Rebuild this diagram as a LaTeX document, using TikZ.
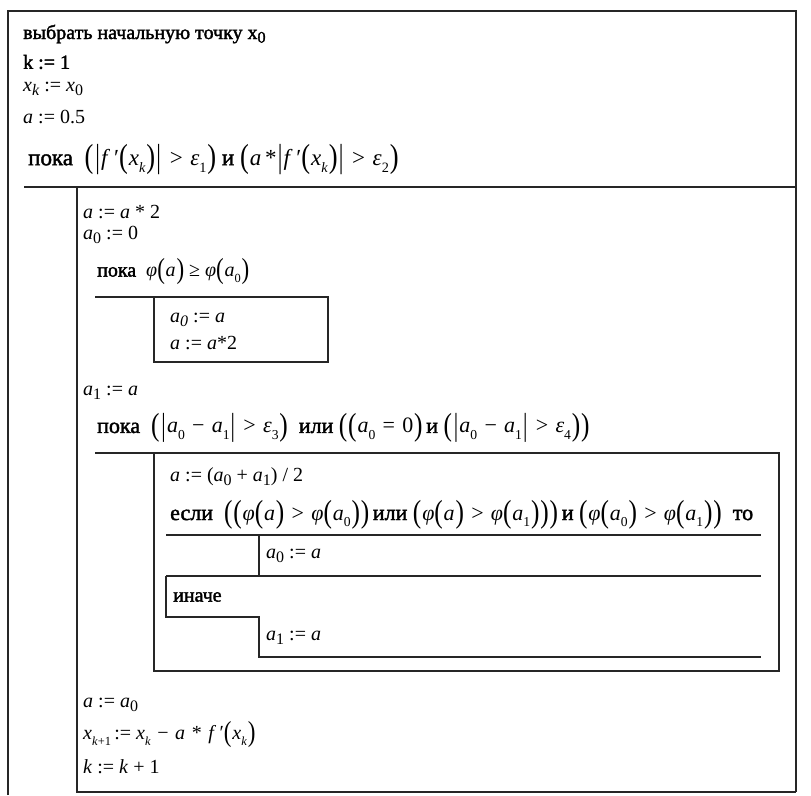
\documentclass[tikz,border=0pt]{standalone}
\usepackage{fontspec}
\setmainfont{Liberation Serif}
\newfontfamily\kwfont[FakeBold=1.8]{Liberation Serif}
\usepackage{graphicx}
\newcommand\mi[1]{\textit{#1}}
\newcommand\lo[1]{\raisebox{-0.3em}{\scalebox{0.62}{#1}}}
\newcommand\los[1]{\raisebox{-0.18em}{\scalebox{0.8}{#1}}}
\newcommand\bpl{\raisebox{-0.12em}{\scalebox{1.15}[1.45]{(}}\hspace{0.04em}}
\newcommand\bpr{\hspace{0.04em}\raisebox{-0.12em}{\scalebox{1.15}[1.45]{)}}}
\newcommand\vb{\hspace{0.05em}\raisebox{-0.12em}{\scalebox{1}[1.45]{|}}\hspace{0.05em}}
\newcommand\op[1]{\hspace{0.33em}#1\hspace{0.33em}}
\newcommand\kw[1]{{\kwfont #1}}
\newcommand\phix{\mi{φ}}
\newcommand\epsx{\mi{ε}}
\begin{document}
\begin{tikzpicture}[x=1pt,y=-1pt,
  txt/.style={anchor=west, inner sep=0pt, font=\fontsize{20}{24}\selectfont},
  ftxt/.style={anchor=west, inner sep=0pt, font=\fontsize{22}{26}\selectfont},
  ln/.style={line width=1.3pt, draw=black!85}]
\useasboundingbox (0,0) rectangle (811,795);
% frame and structure
\coordinate (o1) at (8,795);
\coordinate (o2) at (8,11);
\coordinate (o3) at (796,11);
\coordinate (o4) at (796,792);
\coordinate (b1) at (77,187);
\coordinate (b2) at (77,792);
\coordinate (h1) at (24,187);
\draw[ln] (o1) -- (o2) -- (o3) -- (o4);
\draw[ln] (h1) -- (o3 |- h1);
\draw[ln] (b1) -- (b2) -- (o4);
% first inner while
\coordinate (w1a) at (95,297);
\coordinate (w1b) at (154,297);
\coordinate (w1c) at (328,362);
\draw[ln] (w1a) -- (w1b);
\draw[ln] (w1b) rectangle (w1c);
% second inner while
\coordinate (w2a) at (95,453);
\coordinate (w2b) at (154,453);
\coordinate (w2c) at (779,671);
\draw[ln] (w2a) -- (w2b);
\draw[ln] (w2b) rectangle (w2c);
% if structure
\coordinate (i1) at (166,535);
\coordinate (i2) at (761,535);
\coordinate (i3) at (259,535);
\coordinate (i4) at (259,576);
\coordinate (i5) at (166,576);
\coordinate (i6) at (761,576);
\coordinate (i7) at (166,617);
\coordinate (i8) at (259,617);
\coordinate (i9) at (259,657);
\coordinate (i10) at (761,657);
\draw[ln] (i1) -- (i2);
\draw[ln] (i3) -- (i4);
\draw[ln] (i5) -- (i6);
\draw[ln] (i5) -- (i7) -- (i8) -- (i9) -- (i10);
% texts
\node[txt] (t1) at (23,34) {\kw{выбрать начальную точку x\los{0}}};
\node[txt] (t2) at (23,62) {\kw{k := 1}};
\node[txt] (t3) at (23,89) {\mi{x}\los{\mi{k}} := \mi{x}\los{0}};
\node[txt] (t4) at (23,117) {\mi{a} := 0.5};
\node[ftxt, font=\fontsize{23}{27}\selectfont] (t5) at (28,160) {\kw{пока}\ \ \bpl\vb\mi{f}\,′\bpl\mi{x}\lo{\mi{k}}\bpr\vb\op{>}\epsx\lo{1}\bpr\ \kw{и}\ \bpl\mi{a}\,*\vb\mi{f}\,′\bpl\mi{x}\lo{\mi{k}}\bpr\vb\op{>}\epsx\lo{2}\bpr};
\node[txt] (t6) at (83,212) {\mi{a} := \mi{a} * 2};
\node[txt] (t7) at (83,235) {\mi{a}\los{0} := 0};
\node[txt] (t8) at (97,272) {\kw{пока}\ \ \phix\bpl\mi{a}\bpr\ ≥\ \phix\bpl\mi{a}\lo{0}\bpr};
\node[txt] (t9) at (170,320) {\mi{a}\los{\mi{0}} := \mi{a}};
\node[txt] (t10) at (170,343) {\mi{a} := \mi{a}*2};
\node[txt] (t11) at (83,393) {\mi{a}\los{1} := \mi{a}};
\node[ftxt] (t12) at (97,428) {\kw{пока}\ \ \bpl\vb\mi{a}\lo{0}\op{−}\mi{a}\lo{1}\vb\op{>}\epsx\lo{3}\bpr\ \ \kw{или}\ \bpl\bpl\mi{a}\lo{0}\op{=}0\bpr\,\kw{и}\ \bpl\vb\mi{a}\lo{0}\op{−}\mi{a}\lo{1}\vb\op{>}\epsx\lo{4}\bpr\bpr};
\node[txt] (t13) at (170,477) {\mi{a} := (\mi{a}\los{0} + \mi{a}\los{1}) / 2};
\node[ftxt] (t14) at (170,515) {\kw{если}\ \ \bpl\bpl\phix\bpl\mi{a}\bpr\op{>}\phix\bpl\mi{a}\lo{0}\bpr\bpr\,\kw{или}\ \bpl\phix\bpl\mi{a}\bpr\op{>}\phix\bpl\mi{a}\lo{1}\bpr\bpr\bpr\,\kw{и}\ \bpl\phix\bpl\mi{a}\lo{0}\bpr\op{>}\phix\bpl\mi{a}\lo{1}\bpr\bpr\ \ \kw{то}};
\node[txt] (t15) at (266,556) {\mi{a}\los{0} := \mi{a}};
\node[txt] (t16) at (173,597) {\kw{иначе}};
\node[txt] (t17) at (266,638) {\mi{a}\los{1} := \mi{a}};
\node[txt] (t18) at (83,705) {\mi{a} := \mi{a}\los{0}};
\node[txt] (t19) at (83,735) {\mi{x}\lo{\mi{k}+1}\,:= \mi{x}\lo{\mi{k}}\op{−}\mi{a}\op{*}\mi{f}\,′\bpl\mi{x}\lo{\mi{k}}\bpr};
\node[txt] (t20) at (83,767) {\mi{k} := \mi{k} + 1};
\end{tikzpicture}
\end{document}
